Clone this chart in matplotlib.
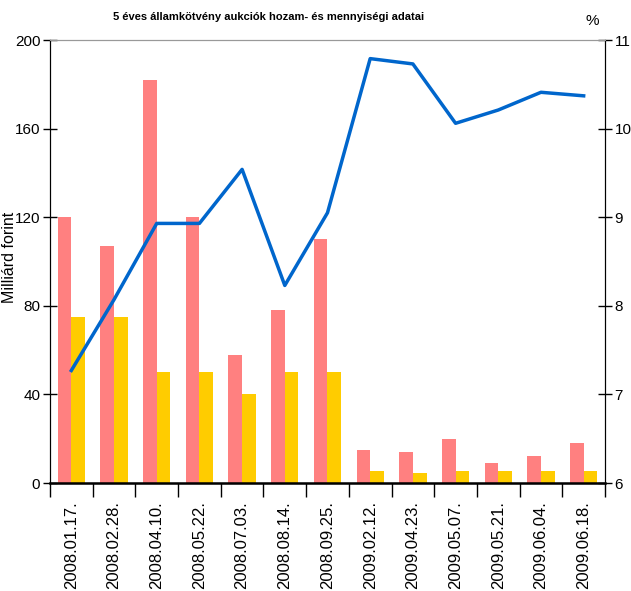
import numpy as np
import matplotlib.pyplot as plt

datumok = ["2008.01.17.", "2008.02.28.", "2008.04.10.", "2008.05.22.", "2008.07.03.",
           "2008.08.14.", "2008.09.25.", "2009.02.12.", "2009.04.23.", "2009.05.07.",
           "2009.05.21.", "2009.06.04.", "2009.06.18."]
benyujtott = [120, 107, 182, 120, 58, 78, 110, 15, 14, 20, 9, 12, 18]
elfogadott = [75, 75, 50, 50, 40, 50, 50, 5.5, 4.5, 5.5, 5.5, 5.5, 5.5]
hozam = [7.27, 8.07, 8.93, 8.93, 9.54, 8.23, 9.05, 10.79, 10.73, 10.06, 10.21, 10.41, 10.37]

plt.rcParams["font.family"] = ["Liberation Sans", "DejaVu Sans"]

fig = plt.figure(figsize=(6.31, 5.91), dpi=100)
ax = fig.add_axes([0.0792, 0.1827, 0.8796, 0.7496])
x = np.arange(len(datumok))
w = 0.32
ax.bar(x - w / 2, benyujtott, width=w, color="#FF8080", zorder=2)
ax.bar(x + w / 2, elfogadott, width=w, color="#FFCC00", zorder=2)
ax.set_xlim(-0.5, len(datumok) - 0.5)
ax.set_ylim(0, 200)
ax.set_yticks([0, 40, 80, 120, 160, 200])
ax.set_xticks(x)
ax.set_xticklabels(datumok, rotation=90, fontsize=12, va="top")
ax.set_xticks(np.arange(-0.5, len(datumok)), minor=True)
ax.tick_params(axis="x", which="major", length=0, pad=13)
ax.tick_params(axis="x", which="minor", length=10, width=1, direction="out")
ax.tick_params(axis="y", length=10, width=1, direction="inout", labelsize=11, pad=2)
ax.set_ylabel("Milliárd forint", fontsize=11.5)
ax.yaxis.set_label_coords(-0.059, 0.51)
ax.spines["top"].set_color("#999999")
ax.spines["bottom"].set_linewidth(1.8)

ax2 = ax.twinx()
ax2.plot(x, hozam, color="#0066CC", linewidth=2.5, zorder=3)
ax2.set_ylim(6, 11)
ax2.set_yticks([6, 7, 8, 9, 10, 11])
ax2.tick_params(axis="y", length=10, width=1, direction="inout", labelsize=11, pad=2)
ax2.spines["top"].set_color("#999999")

fig.text(0.426, 0.971, "5 éves államkötvény aukciók hozam- és mennyiségi adatai",
         ha="center", va="center", fontsize=8, fontweight="bold")
fig.text(0.938, 0.965, "%", ha="center", va="center", fontsize=11)

fig.savefig("out.png", dpi=100)
